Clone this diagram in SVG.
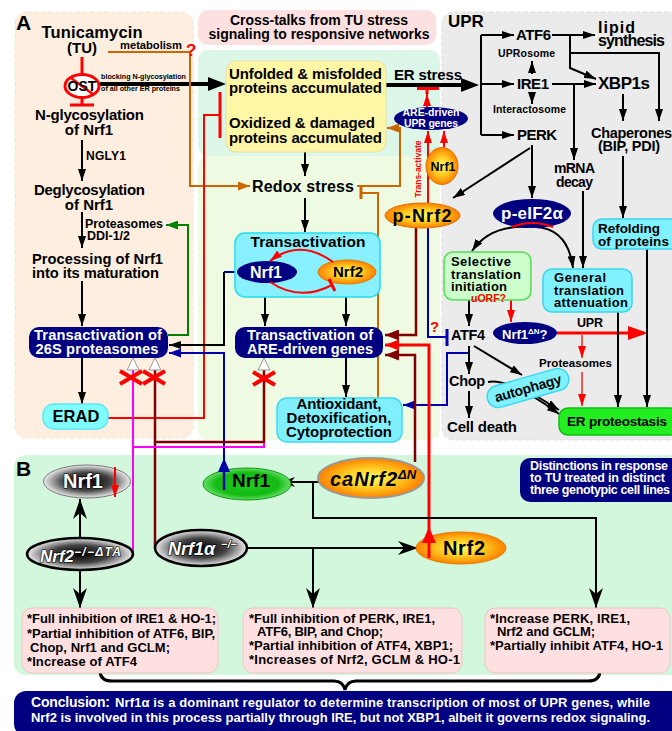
<svg xmlns="http://www.w3.org/2000/svg" width="672" height="731" viewBox="0 0 672 731">
<defs>
<style>
text{font-family:"Liberation Sans",Arial,Helvetica,sans-serif;font-weight:bold;fill:#000}
.wt{fill:#fff}
.rt{fill:#f00}
.it{font-style:italic}
.c{text-anchor:middle}
.ol{fill:#fff;stroke:#000;stroke-width:1.2;paint-order:stroke}
.k{fill:none;stroke:#000;stroke-width:2}
.k3{fill:none;stroke:#000;stroke-width:4}
.r{fill:none;stroke:#f00;stroke-width:2}
.r1{fill:none;stroke:#f00;stroke-width:1.3}
.r3{fill:none;stroke:#f00;stroke-width:3}
.o{fill:none;stroke:#cc6600;stroke-width:2}
.g{fill:none;stroke:#008000;stroke-width:2}
.b{fill:none;stroke:#0000aa;stroke-width:2}
.d{fill:none;stroke:#800000;stroke-width:2.5}
.m{fill:none;stroke:#ff00ff;stroke-width:2}
.x{fill:none;stroke:#f00;stroke-width:4}
.navy{fill:#000080}
.cyan{fill:#80f2ff;stroke:#3cd6f0;stroke-width:1.5}
.pink{fill:#ffe0e0;stroke:#ecc4c4;stroke-width:1}
.tri{fill:#fff;stroke:#999;stroke-width:1}
</style>
<marker id="mk" viewBox="0 0 12 8" refX="12" refY="4" markerWidth="12" markerHeight="8" orient="auto" markerUnits="userSpaceOnUse"><path d="M0,0L12,4L0,8z"/></marker>
<marker id="mkL" viewBox="0 0 18 14" refX="12" refY="7" markerWidth="18" markerHeight="14" orient="auto" markerUnits="userSpaceOnUse"><path d="M0,0L18,7L0,14z"/></marker>
<marker id="mr" viewBox="0 0 12 8" refX="12" refY="4" markerWidth="12" markerHeight="8" orient="auto" markerUnits="userSpaceOnUse"><path d="M0,0L12,4L0,8z" fill="#f00"/></marker>
<marker id="mr2" viewBox="0 0 14 11" refX="14" refY="5.5" markerWidth="14" markerHeight="11" orient="auto" markerUnits="userSpaceOnUse"><path d="M0,0L14,5.5L0,11z" fill="#f00"/></marker>
<marker id="mrL" viewBox="0 0 20 14" refX="16" refY="7" markerWidth="20" markerHeight="14" orient="auto" markerUnits="userSpaceOnUse"><path d="M0,0L20,7L0,14z" fill="#f00"/></marker>
<marker id="mo" viewBox="0 0 12 9" refX="12" refY="4.5" markerWidth="12" markerHeight="9" orient="auto" markerUnits="userSpaceOnUse"><path d="M0,0L12,4.5L0,9z" fill="#cc6600"/></marker>
<marker id="mg" viewBox="0 0 12 9" refX="12" refY="4.5" markerWidth="12" markerHeight="9" orient="auto" markerUnits="userSpaceOnUse"><path d="M0,0L12,4.5L0,9z" fill="#008000"/></marker>
<marker id="mb" viewBox="0 0 12 9" refX="12" refY="4.5" markerWidth="12" markerHeight="9" orient="auto" markerUnits="userSpaceOnUse"><path d="M0,0L12,4.5L0,9z" fill="#0000aa"/></marker>
<marker id="md" viewBox="0 0 14 11" refX="14" refY="5.5" markerWidth="14" markerHeight="11" orient="auto" markerUnits="userSpaceOnUse"><path d="M0,0L14,5.5L0,11z" fill="#800000"/></marker>
<marker id="mbarb" viewBox="0 0 20 14" refX="20" refY="7" markerWidth="20" markerHeight="14" orient="auto" markerUnits="userSpaceOnUse"><path d="M0,0L20,7L0,14L6,7z"/></marker>
<marker id="mbarbS" viewBox="0 0 14 10" refX="14" refY="5" markerWidth="14" markerHeight="10" orient="auto" markerUnits="userSpaceOnUse"><path d="M0,0L14,5L0,10L4,5z"/></marker>
<radialGradient id="gOr" cx="50%" cy="50%" r="50%"><stop offset="0" stop-color="#ffff66"/><stop offset="0.5" stop-color="#ffcc22"/><stop offset="1" stop-color="#ff8000"/></radialGradient>
<radialGradient id="gGray" cx="50%" cy="50%" r="50%"><stop offset="0" stop-color="#000"/><stop offset="0.55" stop-color="#444"/><stop offset="1" stop-color="#eeeeee"/></radialGradient>
<radialGradient id="gGreen" cx="50%" cy="50%" r="50%"><stop offset="0" stop-color="#22cc22"/><stop offset="0.7" stop-color="#11bb11"/><stop offset="1" stop-color="#66dd66"/></radialGradient>
</defs>

<g id="backgrounds">
<rect x="15" y="12" width="178" height="426" rx="12" fill="#fdeee0" stroke="#f3e2d2" stroke-dasharray="4 3"/>
<rect x="198" y="50" width="242" height="106" rx="10" fill="#dcf6e8"/>
<rect x="198" y="156" width="242" height="284" rx="10" fill="#eefbe2"/>
<rect x="442" y="12" width="240" height="428" rx="12" fill="#ebebeb" stroke="#dcdcdc" stroke-dasharray="4 3"/>
<rect x="14" y="455" width="670" height="220" rx="12" fill="#d3f7dc"/>
</g>

<g id="connectors">
<line x1="82" y1="57" x2="82" y2="74" class="r3"/>
<path d="M82,98V105M70,105H94" class="r3"/>
<line x1="100" y1="84" x2="220" y2="84" class="k3" marker-end="url(#mkL)"/>
<path d="M108,52H190V186H250" class="o" marker-end="url(#mo)"/>
<line x1="82" y1="140" x2="82" y2="181" class="k" marker-end="url(#mk)"/>
<line x1="82" y1="212" x2="82" y2="248" class="k" marker-end="url(#mk)"/>
<line x1="82" y1="281" x2="82" y2="326" class="k" marker-end="url(#mk)"/>
<line x1="82" y1="358" x2="82" y2="404" class="k" marker-end="url(#mk)"/>
<path d="M168,335H188V225H166" class="g" marker-end="url(#mg)"/>
<path d="M108,418H204V115H220" class="r"/>
<line x1="220" y1="92" x2="220" y2="138" class="r3"/>
<line x1="237" y1="272" x2="224" y2="272" class="b"/>
<path d="M224,272V345H169" class="k" marker-end="url(#mk)"/>
<path d="M224,490V353H169" class="b" marker-end="url(#mb)"/>
<path d="M155,548V370M155,442H264V370" class="d"/>
<path d="M133,554V370M133,447H264V443" class="m"/>
<polygon points="133,358 127,370 139,370" class="tri"/>
<polygon points="155,358 149,370 161,370" class="tri"/>
<polygon points="264,358 258,370 270,370" class="tri"/>
<path d="M120,371L142,384M142,371L120,384" class="x"/>
<path d="M143,371L165,384M165,371L143,384" class="x"/>
<path d="M253,372L275,385M275,372L253,385" class="x"/>
<line x1="305" y1="98" x2="305" y2="116" class="k" marker-end="url(#mk)"/>
<line x1="305" y1="152" x2="305" y2="176" class="k" marker-end="url(#mk)"/>
<line x1="305" y1="198" x2="305" y2="232" class="k" marker-end="url(#mk)"/>
<line x1="265" y1="283" x2="265" y2="326" class="k" marker-end="url(#mk)"/>
<line x1="346" y1="284" x2="346" y2="326" class="k" marker-end="url(#mk)"/>
<line x1="346" y1="358" x2="346" y2="397" class="k" marker-end="url(#mk)"/>
<path d="M357,186H400V128H387" class="o" marker-end="url(#mo)"/>
<path d="M378,397V193H362" class="o"/>
<line x1="361" y1="187" x2="361" y2="199" stroke="#cc6600" stroke-width="3"/>
<line x1="386" y1="85" x2="473" y2="85" class="k3" marker-end="url(#mkL)"/>
<line x1="481" y1="35" x2="481" y2="135" class="k"/>
<line x1="481" y1="35" x2="514" y2="35" class="k" marker-end="url(#mk)"/>
<line x1="481" y1="84" x2="514" y2="84" class="k" marker-end="url(#mk)"/>
<line x1="481" y1="135" x2="514" y2="135" class="k" marker-end="url(#mk)"/>
<line x1="532" y1="74" x2="532" y2="61" class="k" marker-end="url(#mk)"/>
<line x1="532" y1="93" x2="532" y2="104" class="k" marker-end="url(#mk)"/>
<line x1="552" y1="35" x2="595" y2="35" class="k" marker-end="url(#mk)"/>
<path d="M570,35V68L596,79" class="k" marker-end="url(#mk)"/>
<path d="M570,53H659V121" class="k" marker-end="url(#mk)"/>
<line x1="552" y1="84" x2="596" y2="84" class="k" marker-end="url(#mk)"/>
<path d="M574,84V160" class="k" marker-end="url(#mk)"/>
<line x1="583" y1="191" x2="583" y2="268" class="k" marker-end="url(#mk)"/>
<line x1="623" y1="94" x2="623" y2="121" class="k" marker-end="url(#mk)"/>
<line x1="623" y1="156" x2="623" y2="218" class="k" marker-end="url(#mk)"/>
<line x1="532" y1="145" x2="532" y2="198" class="k" marker-end="url(#mk)"/>
<line x1="530" y1="148" x2="453" y2="198" class="k" marker-end="url(#mk)"/>
<path d="M528,227Q490,225 472,251" class="k" marker-end="url(#mk)"/>
<path d="M536,227Q568,229 573,268" class="k" marker-end="url(#mk)"/>
<line x1="469" y1="300" x2="469" y2="326" class="k" marker-end="url(#mk)"/>
<line x1="511" y1="283" x2="511" y2="322" class="r" marker-end="url(#mr)"/>
<line x1="557" y1="333" x2="644" y2="333" class="r3" marker-end="url(#mrL)"/>
<line x1="582" y1="335" x2="582" y2="358" class="r1" marker-end="url(#mr)"/>
<line x1="582" y1="372" x2="582" y2="406" class="r1" marker-end="url(#mr)"/>
<line x1="618" y1="312" x2="618" y2="407" class="k" marker-end="url(#mk)"/>
<line x1="647" y1="249" x2="647" y2="407" class="k" marker-end="url(#mk)"/>
<line x1="469" y1="346" x2="469" y2="374" class="k" marker-end="url(#mk)"/>
<line x1="469" y1="391" x2="469" y2="418" class="k" marker-end="url(#mk)"/>
<line x1="474" y1="346" x2="522" y2="375" class="k" marker-end="url(#mk)"/>
<line x1="530" y1="392" x2="559" y2="410" class="k" marker-end="url(#mk)"/>
<path d="M488,382Q510,378 559,414" class="k" marker-end="url(#mk)"/>
<path d="M468,353H447V405H403" class="b" marker-end="url(#mb)"/>
<path d="M428,228V337H447" class="b"/>
<line x1="447" y1="329" x2="447" y2="346" stroke="#0000aa" stroke-width="3"/>
<line x1="428" y1="203" x2="428" y2="131" class="r" marker-end="url(#mr)"/>
<line x1="444" y1="147" x2="444" y2="131" class="r" marker-end="url(#mr)"/>
<line x1="427" y1="107" x2="427" y2="94" class="r" marker-end="url(#mr)"/>
<path d="M427,94V89M417,88.5H439" class="r3"/>
<path d="M416,227V335H385" class="d" marker-end="url(#md)"/>
<path d="M415,462V355H385" class="d" marker-end="url(#md)"/>
<path d="M429,540V345H385" class="r3" marker-end="url(#mr2)"/>
<line x1="80" y1="538" x2="80" y2="499" class="k" marker-end="url(#mbarb)"/>
<line x1="80" y1="570" x2="80" y2="608" class="k" marker-end="url(#mbarb)"/>
<line x1="247" y1="548" x2="418" y2="548" class="k" marker-end="url(#mbarb)"/>
<line x1="313" y1="548" x2="313" y2="608" class="k" marker-end="url(#mbarb)"/>
<line x1="325" y1="482" x2="281" y2="482" class="k" marker-end="url(#mbarbS)"/>
<path d="M313,482V518H596V608" class="k" marker-end="url(#mbarb)"/>
<path d="M100,672Q101,681 112,681H334Q343,681 345,690Q347,681 356,681H588Q599,681 600,672" fill="none" stroke="#000" stroke-width="3"/>
</g>

<g id="label-A"><text x="16" y="30" font-size="21">A</text></g>
<g id="tunicamycin"><text x="92" y="38" class="c" font-size="16.5" textLength="101">Tunicamycin</text><text x="82" y="53" class="c" font-size="15">(TU)</text></g>
<g id="metabolism"><text x="120" y="49" font-size="11.2" textLength="62">metabolism</text><text x="186" y="56" class="rt" font-size="17">?</text></g>
<g id="ost"><ellipse cx="82" cy="86" rx="17" ry="11.5" fill="#fff" stroke="#f00" stroke-width="3"/><line x1="71" y1="78" x2="94" y2="95" stroke="#f00" stroke-width="2.5"/><text x="82" y="91" class="c" font-size="14">OST</text></g>
<g id="blocking"><text x="101" y="79" font-size="7.2" textLength="85">blocking N-glycosylation</text><text x="101" y="91" font-size="7.2" textLength="79">of all other ER proteins</text></g>
<g id="n-glyc"><text x="89.5" y="120" class="c" font-size="15" textLength="109">N-glycosylation</text><text x="89" y="135" class="c" font-size="15">of Nrf1</text></g>
<g id="ngly1"><text x="86" y="160" font-size="12" textLength="40">NGLY1</text></g>
<g id="deglyc"><text x="89.5" y="195" class="c" font-size="15" textLength="111">Deglycosylation</text><text x="89" y="210" class="c" font-size="15">of Nrf1</text></g>
<g id="proteasomes-ddi"><text x="85" y="228" font-size="12.4" textLength="78">Proteasomes</text><text x="87" y="240" font-size="12.5" textLength="43">DDI-1/2</text></g>
<g id="processing"><text x="32" y="264" font-size="14.7" textLength="131">Processing of Nrf1</text><text x="32" y="278" font-size="14.7" textLength="127">into its maturation</text></g>
<g id="p26s"><rect x="29" y="327" width="139" height="31" rx="10" class="navy"/><text x="98" y="340" class="c wt" font-size="14.7" textLength="128">Transactivation of</text><text x="97" y="354" class="c wt" font-size="14.7" textLength="123">26S proteasomes</text></g>
<g id="erad"><rect x="43" y="404" width="65" height="25" rx="11" fill="#80ffff" stroke="#5ee6f6" stroke-width="1.5"/><text x="76" y="422" class="c" font-size="16.5">ERAD</text></g>

<g id="title"><rect x="198" y="10" width="238" height="35" rx="10" fill="#fde0e0"/><text x="319" y="25" class="c" font-size="14" textLength="178">Cross-talks from TU stress</text><text x="319" y="39" class="c" font-size="14" textLength="221">signaling to responsive networks</text></g>
<g id="misfolded"><rect x="226" y="61" width="160" height="91" rx="10" fill="#fff7a6" stroke="#e6dfa0"/><text x="229" y="79" font-size="15" textLength="153">Unfolded &amp; misfolded</text><text x="229" y="93" font-size="15" textLength="153">proteins accumulated</text><text x="229" y="128" font-size="15" textLength="146">Oxidized &amp; damaged</text><text x="229" y="143" font-size="15" textLength="153">proteins accumulated</text></g>
<g id="redox"><text x="252" y="192" font-size="16" textLength="102">Redox stress</text></g>
<g id="transactivation"><rect x="235" y="233" width="145" height="64" rx="10" fill="#88f0ff" stroke="#22ddee" stroke-width="1.5"/><text x="308" y="247" class="c" font-size="15.5" textLength="115">Transactivation</text><ellipse cx="267" cy="272" rx="30" ry="11" class="navy"/><text x="266" y="278" class="c wt" font-size="16">Nrf1</text><ellipse cx="347" cy="272" rx="29" ry="12" fill="url(#gOr)" stroke="#e08000"/><text x="348" y="277" class="c" font-size="15">Nrf2</text><path d="M333,262Q300,238 270,261" class="r" marker-end="url(#mr)"/><path d="M270,282Q300,302 332,285" class="r"/><line x1="329" y1="279" x2="335" y2="291" stroke="#f00" stroke-width="3"/></g>
<g id="are-genes"><rect x="235" y="327" width="148" height="31" rx="10" class="navy"/><text x="310" y="340" class="c wt" font-size="14.6" textLength="126">Transactivation of</text><text x="310" y="354" class="c wt" font-size="14.6" textLength="126">ARE-driven genes</text></g>
<g id="antioxidant"><rect x="277" y="398" width="125" height="44" rx="10" fill="#80f0ff" stroke="#40d8f0" stroke-width="1.5"/><text x="339" y="409" class="c" font-size="15" textLength="85">Antioxidant,</text><text x="339" y="423" class="c" font-size="15" textLength="105">Detoxification,</text><text x="339" y="437" class="c" font-size="15" textLength="106">Cytoprotection</text></g>
<g id="er-stress"><text x="394" y="80" font-size="15" textLength="68">ER stress</text></g>
<g id="are-upr"><ellipse cx="431" cy="118.5" rx="37" ry="11.5" class="navy"/><text x="431" y="116" class="c wt" font-size="10.5" textLength="57">ARE-driven</text><text x="431" y="127" class="c wt" font-size="10.5" textLength="54">UPR genes</text></g>
<g id="nrf1-orange"><ellipse cx="442" cy="166" rx="16" ry="18.5" fill="url(#gOr)" stroke="#e07000"/><text x="443" y="171" class="c" font-size="12.5">Nrf1</text></g>
<g id="trans-activate"><text x="421" y="169" class="c rt" font-size="8.5" textLength="57" transform="rotate(-90 421 169)">Trans-activate</text></g>
<g id="p-nrf2"><ellipse cx="422.5" cy="215.5" rx="37.5" ry="12.5" fill="url(#gOr)" stroke="#e07000"/><text x="422" y="222" class="c" font-size="18" textLength="59">p-Nrf2</text></g>
<g id="q-atf4"><text x="430" y="332" class="rt" font-size="15">?</text></g>

<g id="upr-label"><text x="448" y="27" font-size="17">UPR</text></g>
<g id="atf6"><text x="516" y="40" font-size="15" textLength="35">ATF6</text></g>
<g id="uprosome"><text x="498" y="57" font-size="10.5" textLength="57">UPRosome</text></g>
<g id="ire1"><text x="517" y="89" font-size="15" textLength="32">IRE1</text></g>
<g id="interactosome"><text x="493" y="113" font-size="10.5" textLength="73">Interactosome</text></g>
<g id="perk"><text x="517" y="140" font-size="15" textLength="40">PERK</text></g>
<g id="lipid"><text x="598" y="33" font-size="16" textLength="37">lipid</text><text x="598" y="46" font-size="16" textLength="67">synthesis</text></g>
<g id="xbp1s"><text x="598" y="89" font-size="17" textLength="52">XBP1s</text></g>
<g id="mrna"><text x="554" y="173" font-size="14" textLength="41">mRNA</text><text x="556" y="187" font-size="14" textLength="37">decay</text></g>
<g id="chaperones"><text x="591" y="138" font-size="14.5" textLength="81">Chaperones</text><text x="598" y="151" font-size="14.5" textLength="62">(BIP, PDI)</text></g>
<g id="p-eif2a"><ellipse cx="532" cy="213.5" rx="39" ry="14.5" class="navy"/><text x="532" y="219" class="c wt" font-size="17" textLength="62">p-eIF2α</text><path d="M512,227Q532,219 553,227" class="r"/></g>
<g id="refolding"><rect x="593" y="219" width="90" height="30" rx="9" class="cyan"/><text x="598" y="233" font-size="13.5" textLength="62">Refolding</text><text x="598" y="246" font-size="13.5" textLength="71">of proteins</text></g>
<g id="selective"><rect x="444" y="252" width="87" height="48" rx="9" fill="#ccffcc" stroke="#55dd55" stroke-width="1.5"/><text x="451" y="266" font-size="13" textLength="60">Selective</text><text x="451" y="278.5" font-size="13" textLength="70">translation</text><text x="451" y="291" font-size="13" textLength="56">initiation</text></g>
<g id="uorf"><text x="471" y="302" class="rt" font-size="10.5" textLength="35">uORF?</text></g>
<g id="general"><rect x="543" y="269" width="89" height="43" rx="9" class="cyan"/><text x="554" y="282" font-size="13" textLength="52">General</text><text x="554" y="294.5" font-size="13" textLength="70">translation</text><text x="554" y="307" font-size="13" textLength="74">attenuation</text></g>
<g id="atf4"><text x="451" y="340" font-size="14.5" textLength="34">ATF4</text></g>
<g id="nrf1dn"><ellipse cx="525" cy="333" rx="32" ry="11" class="navy"/><text x="502" y="339" class="wt" font-size="13">Nrf1<tspan font-size="8" dy="-5">ΔN</tspan><tspan dy="5">?</tspan></text></g>
<g id="upr-red"><text x="577" y="327" font-size="12.5" textLength="26">UPR</text></g>
<g id="proteasomes-red"><text x="539" y="367" font-size="11.6" textLength="73">Proteasomes</text></g>
<g id="chop"><text x="449" y="386" font-size="14.5" textLength="36">Chop</text></g>
<g id="cell-death"><text x="447" y="432" font-size="15" textLength="70">Cell death</text></g>
<g id="autophagy" transform="rotate(-16 528 388)"><rect x="486" y="377" width="84" height="22" rx="11" class="cyan"/><text x="528" y="393" class="c" font-size="14" textLength="69">autophagy</text></g>
<g id="er-proteostasis"><rect x="559" y="408" width="120" height="27" rx="9" fill="#22ee22" stroke="#11bb11" stroke-width="1.5"/><text x="567" y="426" font-size="13.5" textLength="100">ER proteostasis</text></g>

<g id="label-B"><text x="16" y="476" font-size="21">B</text></g>
<g id="nrf1-gray"><ellipse cx="87" cy="481.5" rx="43.5" ry="16.5" fill="url(#gGray)" stroke="#777"/><text x="83" y="488" class="c ol" font-size="20">Nrf1</text><line x1="115" y1="467" x2="115" y2="497" class="r" marker-end="url(#mr)"/></g>
<g id="nrf2-ko"><ellipse cx="80" cy="554" rx="53" ry="16" fill="url(#gGray)" stroke="#000" stroke-width="2.5"/><text x="40" y="562" class="it ol" font-size="17">Nrf2</text><text x="74" y="556" class="it ol" font-size="12" textLength="47" stroke-width="0.8">−/−ΔTA</text></g>
<g id="nrf1a-ko"><ellipse cx="201" cy="548" rx="46" ry="18" fill="url(#gGray)" stroke="#000" stroke-width="2.5"/><text x="168" y="555" class="it ol" font-size="18">Nrf1α</text><text x="221" y="548" class="it ol" font-size="11" stroke-width="0.8">−/−</text></g>
<g id="nrf1-green"><ellipse cx="247" cy="484" rx="44" ry="16" fill="url(#gGreen)" stroke="#119911"/><text x="232" y="487" font-size="19">Nrf1</text><line x1="224" y1="490" x2="224" y2="470" stroke="#0000aa" stroke-width="2.5"/><polygon points="224,458 218,472 230,472" fill="#0000aa"/></g>
<g id="canrf2"><ellipse cx="371" cy="478" rx="53" ry="20" fill="url(#gOr)" stroke="#999" stroke-width="2"/><text x="330" y="486" class="it" font-size="20" textLength="67">caNrf2</text><text x="398" y="479" class="it" font-size="13">ΔN</text></g>
<g id="nrf2-b"><ellipse cx="461" cy="548" rx="45" ry="16" fill="url(#gOr)" stroke="#e08000"/><text x="443" y="555" font-size="20" textLength="42">Nrf2</text><line x1="429" y1="558" x2="429" y2="540" stroke="#f00" stroke-width="3"/><polygon points="429,527 422,543 436,543" fill="#f00"/></g>
<g id="distinctions"><rect x="520" y="458" width="165" height="44" rx="10" class="navy"/><text x="530" y="470" class="wt" font-size="12.5" textLength="138">Distinctions in response</text><text x="530" y="482" class="wt" font-size="12.5" textLength="135">to TU treated in distinct</text><text x="530" y="494" class="wt" font-size="12.5" textLength="140">three genotypic cell lines</text></g>
<g id="result-nrf2ko"><rect x="22" y="608" width="196" height="65" rx="10" class="pink"/><text x="27" y="623" font-size="13" textLength="189">*Full inhibition of IRE1 &amp; HO-1;</text><text x="27" y="638" font-size="13" textLength="188">*Partial inhibition of ATF6, BIP,</text><text x="30" y="652" font-size="13" textLength="140">Chop, Nrf1 and GCLM;</text><text x="27" y="666" font-size="13" textLength="110">*Increase of ATF4</text></g>
<g id="result-nrf1ko"><rect x="243" y="608" width="219" height="65" rx="10" class="pink"/><text x="249" y="623" font-size="13" textLength="186">*Full inhibition of PERK, IRE1,</text><text x="257" y="636" font-size="13" textLength="126">ATF6, BIP, and Chop;</text><text x="249" y="650" font-size="13" textLength="204">*Partial inhibition of ATF4, XBP1;</text><text x="249" y="664" font-size="13" textLength="211">*Increases of Nrf2, GCLM &amp; HO-1</text></g>
<g id="result-canrf2"><rect x="485" y="608" width="185" height="65" rx="10" class="pink"/><text x="490" y="623" font-size="13" textLength="140">*Increase PERK, IRE1,</text><text x="497" y="636" font-size="13" textLength="98">Nrf2 and GCLM;</text><text x="490" y="650" font-size="13" textLength="173">*Partially inhibit ATF4, HO-1</text></g>
<g id="conclusion"><rect x="14" y="691" width="670" height="45" rx="12" class="navy"/><text x="31" y="707" class="wt" font-size="14" textLength="79">Conclusion:</text><text x="115" y="707" class="wt" font-size="13" textLength="535">Nrf1α is a dominant regulator to determine transcription of most of UPR genes, while</text><text x="31" y="722" class="wt" font-size="13" textLength="619">Nrf2 is involved in this process partially through IRE, but not XBP1, albeit it governs redox signaling.</text></g>
</svg>
